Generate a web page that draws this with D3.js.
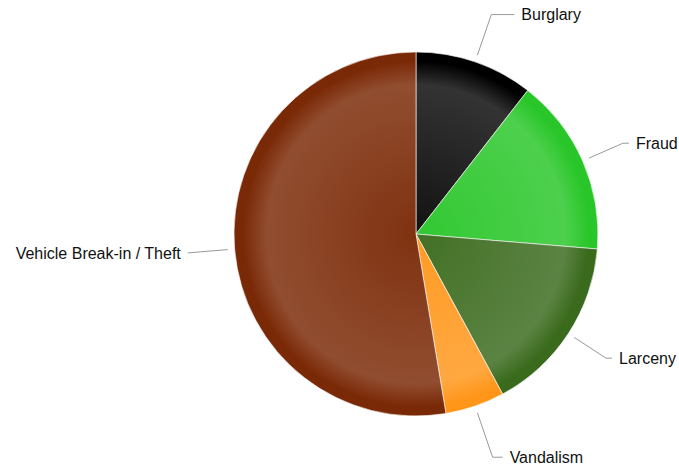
<!DOCTYPE html>
<html><head><meta charset="utf-8">
<script src="https://cdn.jsdelivr.net/npm/d3@7"></script>
<style>body{margin:0;background:#fff}svg{display:block}</style>
</head><body>
<svg id="c" width="679" height="471"></svg>
<script>
const categories = ["Burglary", "Fraud", "Larceny", "Vandalism", "Vehicle Break-in / Theft"];
const values = [2, 3, 3, 1, 10];
const colors = ["#000000", "#29c629", "#3a6a1c", "#ff961a", "#7a2906"];
// label layout tweaks: connector elbow distance beyond the rim, horizontal tail length
const labelDist = [50, 44, 45, 54, 47];
const labelTail = [23, 6, 6, 10, 0];

const W = 679, H = 471, cx = 416, cy = 234, R = 182;
const svg = d3.select("#c");
const defs = svg.append("defs");
function mix(c, t) { return d3.interpolateRgb(c, "#ffffff")(t); }
colors.forEach((c, i) => {
  const g = defs.append("radialGradient").attr("id", "g" + i)
    .attr("gradientUnits", "userSpaceOnUse").attr("cx", 0).attr("cy", 0).attr("r", R);
  const base = i === 0 ? [0.07, 0.2] : [0.04, 0.17];
  g.append("stop").attr("offset", "0").attr("stop-color", mix(c, base[0]));
  g.append("stop").attr("offset", "0.82").attr("stop-color", mix(c, base[1]));
  g.append("stop").attr("offset", "0.95").attr("stop-color", c);
  g.append("stop").attr("offset", "1").attr("stop-color", c);
});

const data = categories.map((k, i) => ({ k, v: values[i], i }));
const pie = d3.pie().value(d => d.v).sort(null);
const arcs = pie(data);
const arc = d3.arc().innerRadius(0).outerRadius(R);
const g = svg.append("g").attr("transform", `translate(${cx},${cy})`);
g.selectAll("path.s").data(arcs).join("path").attr("class", "s")
  .attr("d", arc).attr("fill", d => `url(#g${d.data.i})`)
  .attr("stroke", "#fff").attr("stroke-width", 0.6).attr("stroke-linejoin", "round");

const pt = (a, r) => [Math.sin(a) * r, -Math.cos(a) * r];
arcs.forEach(d => {
  const i = d.data.i;
  const mid = (d.startAngle + d.endAngle) / 2;
  const right = Math.sin(mid) >= 0;
  const p0 = pt(mid, R + 7), p1 = pt(mid, R + labelDist[i]);
  const p2 = [p1[0] + (right ? 1 : -1) * labelTail[i], p1[1]];
  g.append("path").attr("d", `M${p0}L${p1}L${p2}`).attr("fill", "none")
    .attr("stroke", "#999").attr("stroke-width", 1);
  g.append("text").attr("x", p2[0] + (right ? 7 : -7)).attr("y", p2[1])
    .attr("dy", "0.35em").attr("text-anchor", right ? "start" : "end")
    .attr("font-family", "Liberation Sans, Arial, sans-serif").attr("font-size", 16)
    .attr("fill", "#111").text(d.data.k);
});
</script>
</body></html>
